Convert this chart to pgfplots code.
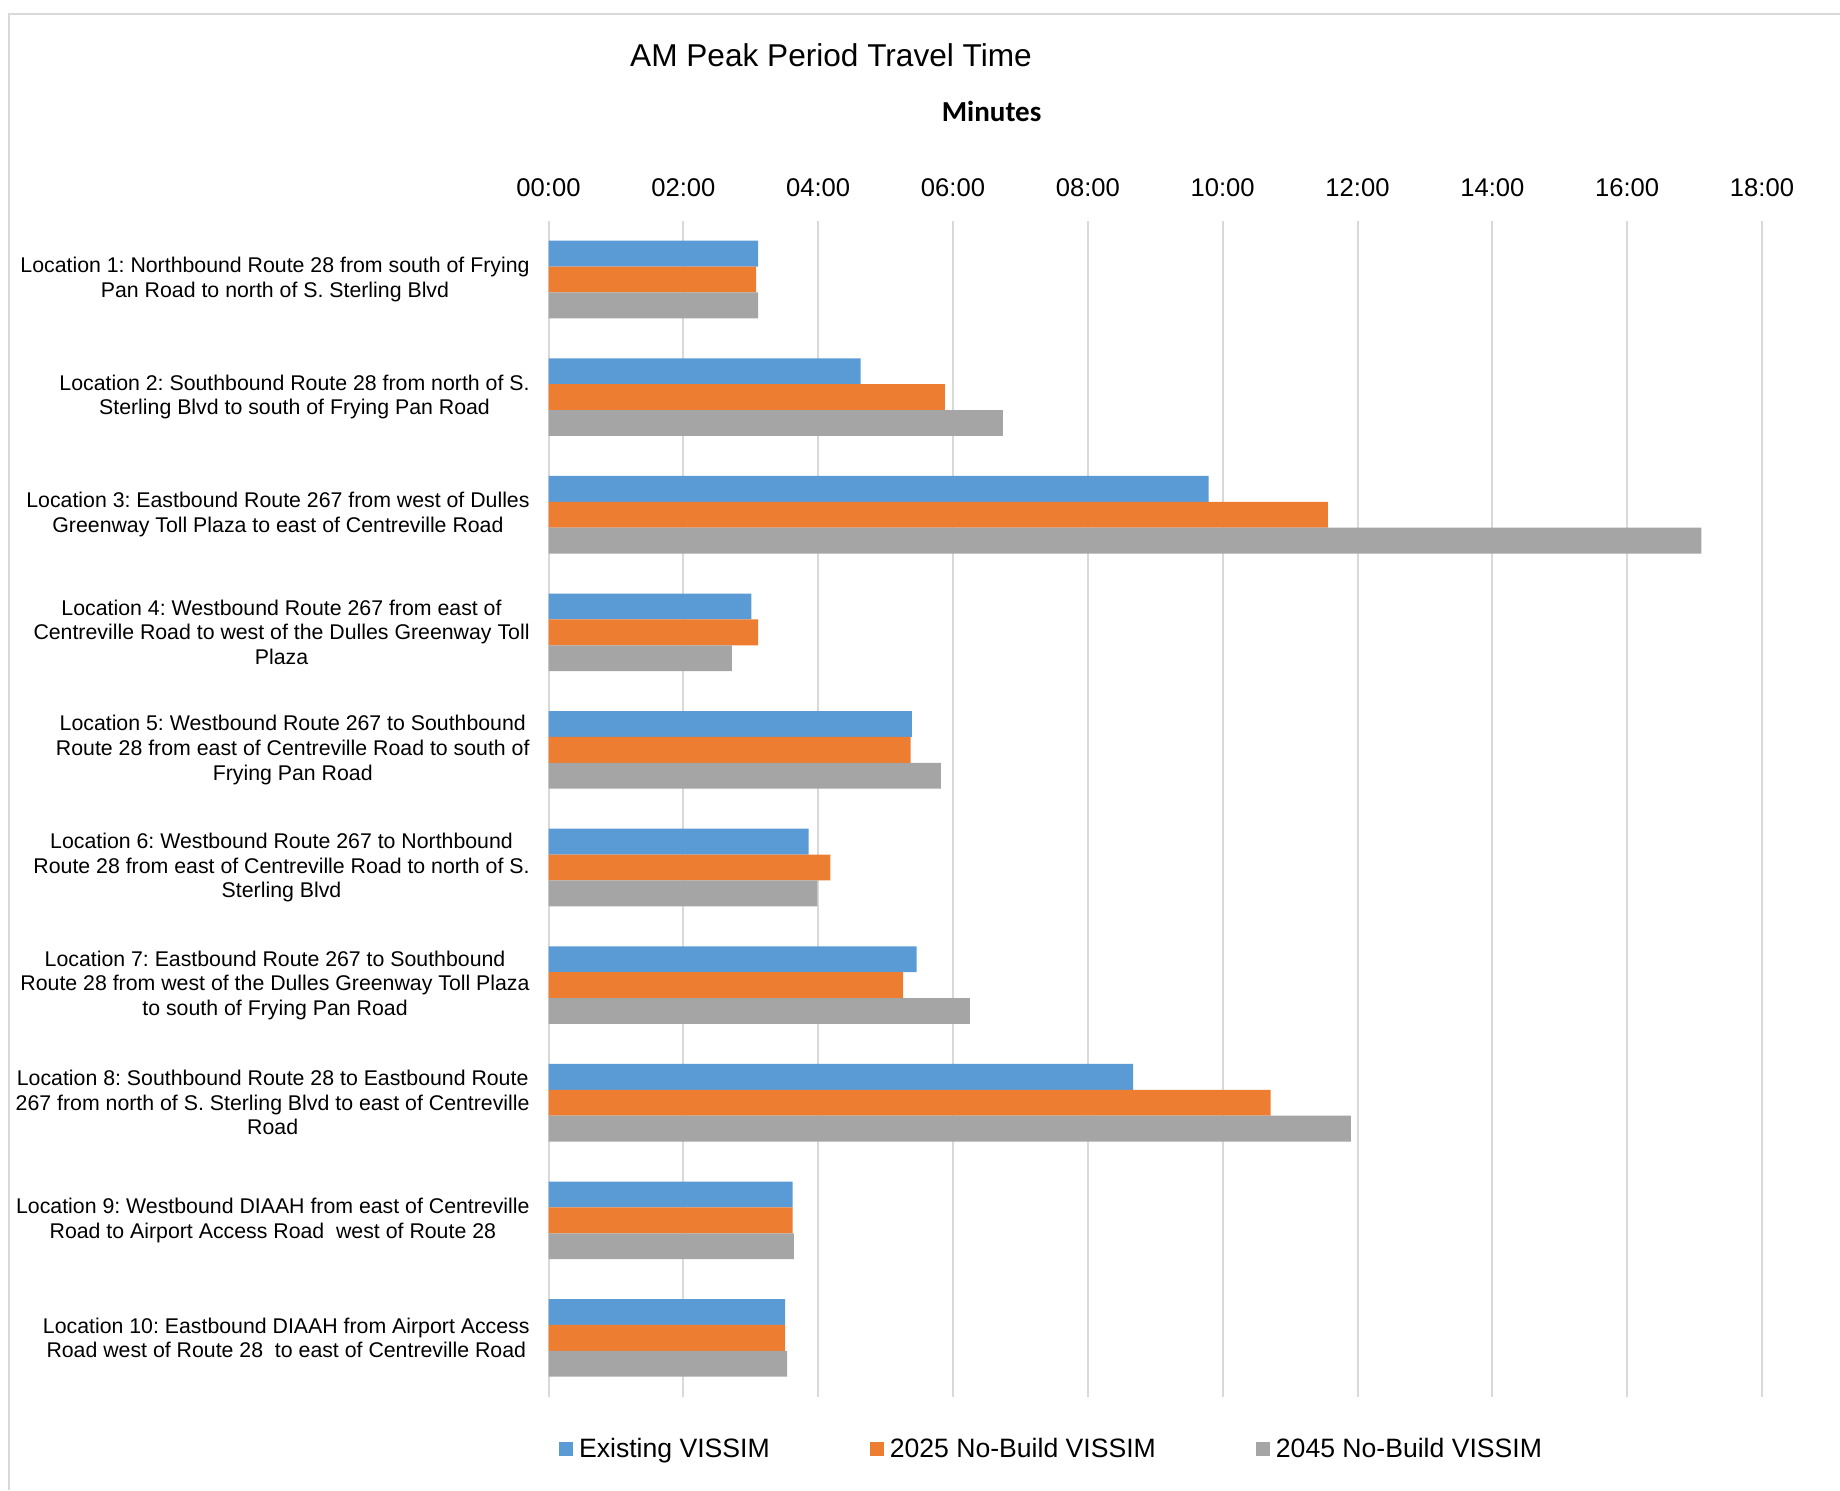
\documentclass[border=0pt]{standalone}
\usepackage{pgfplots}
\pgfplotsset{compat=1.18}
\usepackage{fontspec}
\setmainfont{Liberation Sans}
\newfontfamily\carlito{Carlito}

\definecolor{exist}{HTML}{5B9BD5}
\definecolor{nb25}{HTML}{ED7D31}
\definecolor{nb45}{HTML}{A5A5A5}
\definecolor{gridgray}{HTML}{D9D9D9}

\begin{document}
\frenchspacing
\begin{tikzpicture}
% page frame
\path[use as bounding box, fill=white] (0pt,0pt) rectangle (920pt,745pt);
\draw[gridgray, line width=1.2pt] (4.5pt,0pt) -- (4.5pt,738pt) -- (920pt,738pt);

\node[font=\fontsize{15.8}{18}\selectfont] at (415.5pt,717.5pt) {AM Peak Period Travel Time};
\node[font=\carlito\bfseries\fontsize{14.5}{17}\selectfont] at (495.8pt,689.2pt) {Minutes};

\begin{axis}[
  at={(274.25pt,46.65pt)}, anchor=south west,
  scale only axis, width=606.75pt, height=588pt,
  xbar, y dir=reverse,
  xmin=0, xmax=18, ymin=0.5, ymax=10.5,
  bar width=0.22,
  xtick={0,2,...,18},
  xticklabels={00:00,02:00,04:00,06:00,08:00,10:00,12:00,14:00,16:00,18:00},
  xticklabel pos=upper,
  xticklabel style={font=\fontsize{12.8}{15}\selectfont, inner sep=0pt, yshift=11.8pt},
  ytick={1,...,10},
  yticklabels={
    {Location 1: Northbound Route 28 from south of Frying\\Pan Road to north of S. Sterling Blvd},
    {Location 2: Southbound Route 28 from north of S.\\Sterling Blvd to south of Frying Pan Road},
    {Location 3: Eastbound Route 267 from west of Dulles\\Greenway Toll Plaza to east of Centreville Road},
    {Location 4: Westbound Route 267 from east of\\Centreville Road to west of the Dulles Greenway Toll\\Plaza},
    {Location 5: Westbound Route 267 to Southbound\\Route 28 from east of Centreville Road to south of\\Frying Pan Road},
    {Location 6: Westbound Route 267 to Northbound\\Route 28 from east of Centreville Road to north of S.\\Sterling Blvd},
    {Location 7: Eastbound Route 267 to Southbound\\Route 28 from west of the Dulles Greenway Toll Plaza\\to south of Frying Pan Road},
    {Location 8: Southbound Route 28 to Eastbound Route\\267 from north of S. Sterling Blvd to east of Centreville\\Road},
    {Location 9: Westbound DIAAH from east of Centreville\\Road to Airport Access Road\ \ west of Route 28},
    {Location 10: Eastbound DIAAH from Airport Access\\Road west of Route 28\ \ to east of Centreville Road}
  },
  yticklabel style={align=center, font=\frenchspacing\fontsize{10.65}{12.3}\selectfont, inner sep=0pt, xshift=-5pt},
  axis line style={draw=none},
  tick style={draw=none},
  xmajorgrids,
  major grid style={gridgray, line width=1pt},
  legend columns=3,
  legend style={
    at={(axis description cs:0.0084,-0.0445)}, anchor=west,
    draw=none, fill=none, inner sep=0pt,
    font=\fontsize{13.3}{15}\selectfont,
    /tikz/every odd column/.append style={column sep=1pt},
    /tikz/every even column/.append style={column sep=48pt},
  },
  legend image code/.code={\fill[#1, draw=none] (0pt,-3.5pt) rectangle (7pt,3.5pt);},
]
\addplot[fill=exist, draw=none, bar shift=-0.22] coordinates {
  (3.11,1) (4.63,2) (9.79,3) (3.01,4) (5.39,5) (3.86,6) (5.46,7) (8.67,8) (3.62,9) (3.51,10)};
\addplot[fill=nb25, draw=none, bar shift=0] coordinates {
  (3.08,1) (5.88,2) (11.56,3) (3.11,4) (5.37,5) (4.18,6) (5.26,7) (10.71,8) (3.62,9) (3.51,10)};
\addplot[fill=nb45, draw=none, bar shift=0.22] coordinates {
  (3.11,1) (6.74,2) (17.10,3) (2.72,4) (5.82,5) (3.99,6) (6.25,7) (11.90,8) (3.64,9) (3.54,10)};
\legend{Existing VISSIM, 2025 No-Build VISSIM, 2045 No-Build VISSIM}
\end{axis}
\end{tikzpicture}
\end{document}
